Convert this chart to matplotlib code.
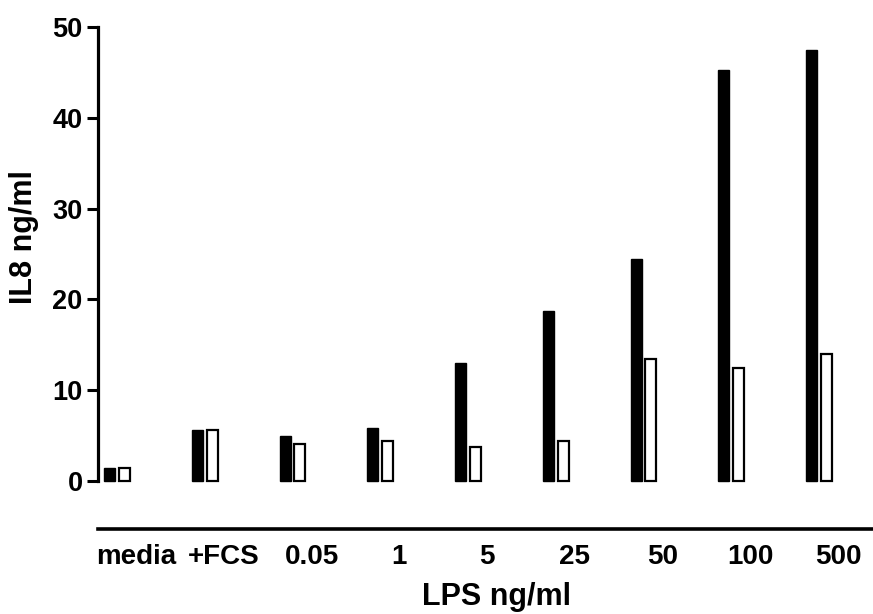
import matplotlib
matplotlib.use("Agg")
import matplotlib.pyplot as plt
from matplotlib.transforms import ScaledTranslation
import numpy as np

# IL8 release per LPS dose
categories = ["media", "+FCS", "0.05", "1", "5", "25", "50", "100", "500"]
il8_filled = [1.45, 5.6, 4.95, 5.85, 12.95, 18.7, 24.45, 45.3, 47.5]
il8_open = [1.4, 5.6, 4.05, 4.4, 3.7, 4.4, 13.4, 12.4, 14.0]
y_ticks = [0, 10, 20, 30, 40, 50]

plt.rcParams["font.family"] = ["Liberation Sans", "DejaVu Sans"]
plt.rcParams["font.weight"] = "bold"

fig = plt.figure(figsize=(8.73, 6.14), dpi=100)
W, H = 873, 614
ax = fig.add_axes([98 / W, (H - 529) / H, (W - 98) / W, (529 - 27) / H])

x = np.arange(len(categories))
off = 0.083
w = 0.125
ax.bar(x - off, il8_filled, width=w, color="black", edgecolor="black",
       linewidth=1.0)
ax.bar(x + off, il8_open, width=w, color="white", edgecolor="black",
       linewidth=1.6)

ax.set_xlim(-0.217, 8.616)
ax.set_ylim(-5.29, 50)

for s in ["top", "right"]:
    ax.spines[s].set_visible(False)
ax.spines["left"].set_bounds(0, 50)
ax.spines["left"].set_linewidth(2.3)
ax.spines["bottom"].set_linewidth(2.6)

ax.set_yticks(y_ticks)
ax.tick_params(axis="y", length=8, width=2.2, pad=3, labelsize=19.5)
ax.set_xticks(x)
ax.set_xticklabels(categories)
ax.tick_params(axis="x", length=0, pad=11, labelsize=20)
for lab in ax.get_xticklabels():
    lab.set_transform(lab.get_transform() +
                      ScaledTranslation(0.19, 0, fig.dpi_scale_trans))
for lab in ax.get_yticklabels() + ax.get_xticklabels():
    lab.set_fontweight("bold")

fig.text(24 / W, 1 - 237 / H, "IL8 ng/ml", rotation=90, ha="center",
         va="center", fontsize=22, fontweight="bold")
fig.text(496 / W, 1 - 597 / H, "LPS ng/ml", ha="center", va="center",
         fontsize=22, fontweight="bold")

fig.savefig("out.png", dpi=100)
